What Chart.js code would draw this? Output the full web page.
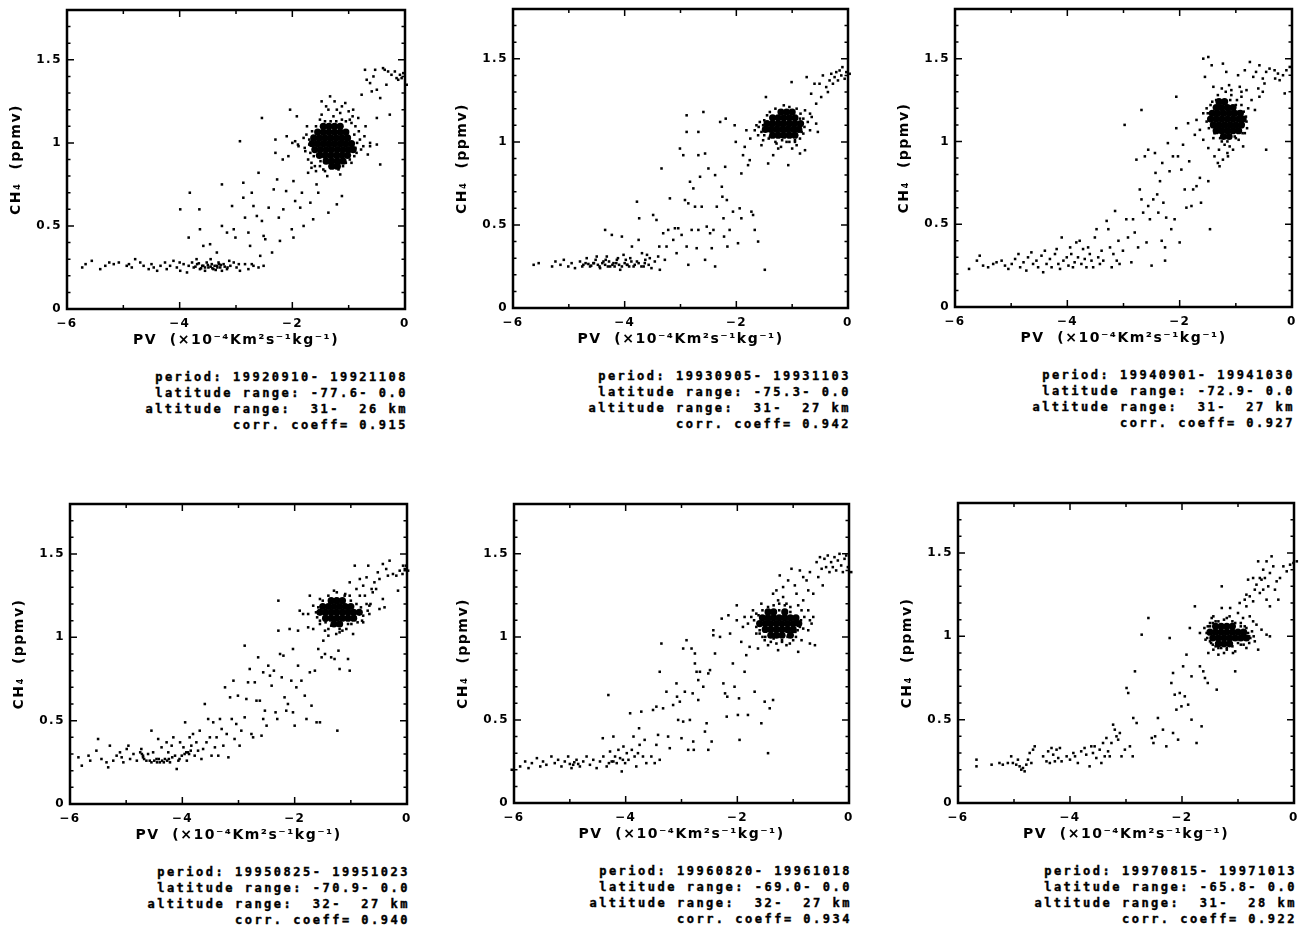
<!DOCTYPE html>
<html>
<head>
<meta charset="utf-8">
<script src="https://cdn.jsdelivr.net/npm/chart.js@4.4.0/dist/chart.umd.min.js"></script>
<style>
  html, body { margin: 0; padding: 0; background: #fff; width: 1302px; height: 928px; overflow: hidden; }
  .panel { position: absolute; }
  .stats {
    position: absolute; width: 320px; text-align: right; white-space: pre;
    font: bold 12px "DejaVu Sans Mono", monospace; letter-spacing: 2.5px;
    -webkit-text-stroke: 0.4px #000;
    line-height: 16px; color: #000;
  }
</style>
</head>
<body>
<script>
// Axis ticks and labels
const xMajorTicks = [-6, -4, -2, 0];
const xMinorTicks = [-5, -3, -1];
const xTickLabels = ['\u22126', '\u22124', '\u22122', '0'];
const yMajorTicks = [0, 0.5, 1, 1.5];
const yMinorTicks = [0.1, 0.2, 0.3, 0.4, 0.6, 0.7, 0.8, 0.9, 1.1, 1.2, 1.3, 1.4, 1.6, 1.7];
const yTickLabels = ['0', '0.5', '1', '1.5'];
const xTitle = 'PV  (\u00d710\u207b\u2074Km\u00b2s\u207b\u00b9kg\u207b\u00b9)';
const yTitle = 'CH\u2084  (ppmv)';

// 1992: PV vs CH4 points, [pv, ch4]
const panel1Points = [[-5.73,0.25],[-5.67,0.27],[-5.56,0.29],[-5.41,0.24],[-5.32,0.26],[-5.17,0.27],[-5.08,0.28],[-4.94,0.26],[-4.85,0.25],[-4.79,0.30],[-4.70,0.28],[-4.64,0.26],[-4.55,0.24],[-4.46,0.25],[-4.40,0.23],[-4.34,0.26],[-4.26,0.28],[-4.23,0.24],[-4.17,0.26],[-4.11,0.29],[-4.05,0.25],[-3.99,0.23],[-3.93,0.27],[-3.87,0.22],[-3.84,0.26],[-3.78,0.28],[-3.75,0.25],[-3.69,0.27],[-3.64,0.24],[-3.58,0.26],[-3.52,0.28],[-3.49,0.25],[-3.43,0.27],[-3.40,0.24],[-3.34,0.26],[-3.31,0.28],[-3.28,0.25],[-3.22,0.27],[-3.16,0.24],[-3.10,0.26],[-3.04,0.28],[-2.99,0.25],[-2.93,0.23],[-2.84,0.27],[-2.78,0.24],[-2.69,0.26],[-2.60,0.25],[-2.51,0.26],
  [-4.50,0.27],[-4.00,0.28],[-3.70,0.30],[-3.55,0.23],[-3.45,0.30],[-3.25,0.23],[-3.12,0.29],[-2.95,0.27],[-2.72,0.27],[-4.90,0.27],[-5.25,0.28],
  [-3.60,0.26],[-3.55,0.25],[-3.50,0.265],[-3.45,0.255],[-3.38,0.26],[-3.33,0.25],[-3.27,0.265],[-3.20,0.255],[-3.62,0.245],[-3.42,0.245],[-3.30,0.27],[-3.15,0.25],[-3.72,0.255],[-3.66,0.275],[-3.36,0.235],
  [-3.99,0.60],[-3.82,0.70],[-3.65,0.60],[-3.84,0.43],[-3.64,0.48],[-3.58,0.38],[-3.46,0.39],[-3.34,0.34],[-3.25,0.75],[-3.25,0.50],[-3.16,0.46],[-3.07,0.62],[-3.04,0.48],[-3.01,0.43],[-2.93,1.01],[-2.87,0.76],[-2.87,0.67],[-2.84,0.55],[-2.78,0.46],[-2.75,0.38],[-2.72,0.70],[-2.69,0.62],[-2.63,0.56],[-2.54,1.15],[-2.60,0.82],[-2.54,0.53],[-2.51,0.44],[-2.48,0.42],[-2.57,0.32],[-2.42,0.61],[-2.36,0.34],[-2.33,0.72],[-2.30,1.02],[-2.30,0.94],[-2.27,0.78],[-2.24,0.55],[-2.22,0.41],[-2.17,0.90],[-2.16,0.60],[-2.11,0.71],[-2.10,1.04],[-2.07,0.92],[-2.04,1.20],[-2.01,0.48],[-1.98,0.43],[-1.98,0.77],[-1.95,0.65],[-1.92,1.16],[-1.89,0.98],[-1.86,0.61],[-1.83,0.70],[-1.80,0.50],[-1.77,0.95],[-1.72,0.82],[-1.68,0.64],[-1.66,0.88],[-1.63,0.54],[-1.57,0.75],[-1.54,0.70],[-1.48,1.25],[-1.36,0.58],[-1.33,1.28],[-1.15,0.81],[-1.12,0.68],[-1.21,0.63],[-1.06,1.24],[-0.92,1.20],[-0.77,1.29],[-0.71,1.44],[-0.68,1.38],[-0.62,1.36],[-0.59,1.31],[-0.56,1.40],[-0.53,1.44],[-0.50,1.32],[-0.44,1.27],[-0.39,1.45],[-0.36,1.44],[-0.33,1.35],[-0.30,1.43],[-0.24,1.41],[-0.18,1.43],[-0.15,1.39],[-0.12,1.38],[-0.09,1.41],[-0.06,1.39],[-0.03,1.42],[0.03,1.35],[0.19,1.42],[-0.27,1.17],[-0.50,1.15],[-0.44,0.87],[-0.50,0.99],[-0.62,0.98],
  [-2.00,1.00],[-1.90,0.99],[-1.95,1.01],[-1.74,1.10],[-1.68,0.94],[-1.60,0.86],[-1.51,0.86],[-1.42,0.83],[-1.27,0.85],[-1.03,0.92],[-0.86,0.94],[-0.74,0.98],[-0.62,1.00],[-0.80,1.02],[-1.27,1.16],[-1.15,1.18],[-0.98,1.14],[-0.83,1.15],[-1.03,1.06],[-1.51,1.14],[-1.36,1.20],[-1.21,1.20],[-0.90,1.05],[-0.88,0.97],[-1.70,1.02],[-1.78,0.97],[-0.70,1.10],[-0.95,0.88],[-1.10,0.86],
  [-1.75,1.05],[-1.72,0.90],[-1.66,0.85],[-1.58,0.83],[-1.50,0.89],[-1.45,0.84],[-1.38,0.80],[-1.33,0.86],[-1.18,0.84],[-1.05,0.88],[-0.98,0.90],[-0.90,0.92],[-0.85,1.00],[-0.82,1.07],[-0.88,1.10],[-0.95,1.12],[-1.05,1.13],[-1.12,1.14],[-1.22,1.13],[-1.32,1.13],[-1.42,1.13],[-1.58,1.10],[-1.65,1.07],[-1.70,0.99],[-1.80,1.03],[-1.62,0.92],[-0.78,0.96],[-0.72,1.04],[-0.66,0.93],[-1.48,1.17],[-1.40,1.22],[-1.00,1.19],[-0.93,1.16],[-1.25,1.25],[-1.12,1.22]];
// dense, overplotted part of the 1992 cloud
const panel1Core = [[-1.45,1.10],[-1.35,1.10],[-1.25,1.10],[-1.15,1.10],
  [-1.55,1.065],[-1.45,1.065],[-1.35,1.065],[-1.25,1.065],[-1.15,1.065],[-1.05,1.065],
  [-1.62,1.03],[-1.52,1.03],[-1.42,1.03],[-1.32,1.03],[-1.22,1.03],[-1.12,1.03],[-1.02,1.03],
  [-1.65,0.995],[-1.55,0.995],[-1.45,0.995],[-1.35,0.995],[-1.25,0.995],[-1.15,0.995],[-1.05,0.995],[-0.95,0.995],
  [-1.60,0.96],[-1.50,0.96],[-1.40,0.96],[-1.30,0.96],[-1.20,0.96],[-1.10,0.96],[-1.00,0.96],[-0.92,0.96],
  [-1.52,0.925],[-1.42,0.925],[-1.32,0.925],[-1.22,0.925],[-1.12,0.925],[-1.02,0.925],
  [-1.40,0.89],[-1.30,0.89],[-1.20,0.89],[-1.10,0.89],[-1.30,0.86],[-1.20,0.86]];
const panel1Info = ['period: 19920910- 19921108', 'latitude range: -77.6- 0.0', 'altitude range:  31-  26 km', 'corr. coeff= 0.915'];

// 1993
const panel2Points = [[-6.20,0.32],[-5.63,0.26],[-5.54,0.27],[-5.30,0.25],[-5.24,0.28],[-5.15,0.26],[-5.09,0.29],[-5.01,0.25],[-4.95,0.27],[-4.89,0.24],[-4.80,0.28],[-4.74,0.26],[-4.68,0.30],[-4.62,0.25],[-4.56,0.27],[-4.50,0.31],[-4.44,0.24],[-4.38,0.28],[-4.35,0.47],[-4.32,0.31],[-4.26,0.25],[-4.23,0.44],[-4.20,0.27],[-4.14,0.29],[-4.08,0.23],[-4.05,0.43],[-4.02,0.32],[-3.96,0.26],[-3.90,0.30],[-3.87,0.37],[-3.84,0.25],[-3.78,0.64],[-3.78,0.28],[-3.75,0.41],[-3.74,0.54],[-3.69,0.33],[-3.66,0.25],[-3.63,0.29],[-3.60,0.32],[-3.57,0.26],[-3.55,0.30],[-3.52,0.24],[-3.49,0.56],[-3.46,0.28],[-3.43,0.53],[-3.40,0.31],[-3.38,0.37],[-3.37,0.23],[-3.34,0.84],[-3.31,0.45],[-3.28,0.29],[-3.25,0.37],[-3.22,0.47],[-3.19,0.66],[-3.13,0.41],[-3.10,0.48],[-3.07,0.33],[-3.04,0.48],[-3.01,0.96],[-2.98,0.44],[-2.95,0.92],[-2.92,0.65],[-2.89,1.16],[-2.89,1.06],[-2.89,0.37],[-2.86,0.63],[-2.86,0.26],[-2.83,0.76],[-2.80,0.47],[-2.77,0.72],[-2.74,0.61],[-2.71,0.36],[-2.68,0.92],[-2.68,1.06],[-2.68,0.47],[-2.65,0.79],[-2.62,0.61],[-2.59,1.18],[-2.56,0.93],[-2.56,0.29],[-2.53,0.49],[-2.50,0.84],[-2.47,0.45],[-2.44,0.36],[-2.41,0.47],[-2.38,0.80],[-2.38,0.25],[-2.35,0.61],[-2.29,1.12],[-2.26,0.73],[-2.25,0.67],[-2.23,0.54],[-2.22,0.43],[-2.20,0.85],[-2.19,1.14],[-2.17,0.65],[-2.16,0.37],[-2.12,0.47],[-2.06,0.58],[-2.03,1.10],[-2.01,1.00],[-1.97,0.39],[-1.94,0.60],[-1.91,0.54],[-1.91,0.81],[-1.88,0.92],[-1.85,0.97],[-1.82,1.07],[-1.79,0.86],[-1.76,0.89],[-1.73,0.58],[-1.70,0.56],[-1.67,0.47],[-1.64,1.10],[-1.61,0.40],[-1.49,0.23],[-1.47,1.27],[-1.43,0.87],[-1.34,0.92],[-1.07,0.86],[-1.01,1.36],[-0.86,0.93],[-0.77,0.95],[-0.74,1.39],[-0.66,1.29],[-0.60,1.35],[-0.57,1.23],[-0.54,1.06],[-0.51,1.35],[-0.48,1.27],[-0.45,1.40],[-0.39,1.33],[-0.36,1.30],[-0.33,1.37],[-0.30,1.41],[-0.27,1.35],[-0.24,1.39],[-0.21,1.42],[-0.18,1.37],[-0.15,1.43],[-0.12,1.40],[-0.10,1.45],[-0.06,1.38],[-0.03,1.42],[0.03,1.41],[0.09,1.32],[0.18,1.32],[0.27,1.38],
  [-4.65,0.265],[-4.60,0.255],[-4.55,0.27],[-4.48,0.26],[-4.45,0.25],[-4.40,0.27],[-4.35,0.26],[-4.30,0.25],[-4.28,0.28],[-4.22,0.26],[-4.18,0.25],[-4.15,0.27],[-4.10,0.26],[-4.05,0.25],[-4.00,0.27],[-3.95,0.26],[-3.92,0.25],[-3.88,0.28],[-3.82,0.26],[-3.75,0.27],[-3.70,0.25],[-4.52,0.29],[-4.34,0.29],[-4.12,0.30],[-3.98,0.29],[-4.70,0.27],[-4.76,0.25],[-3.64,0.27],
  [-1.34,1.14],[-1.22,1.19],[-0.98,1.18],[-0.86,1.14],[-0.77,1.19],[-0.68,1.17],[-0.57,1.11],[-1.67,1.07],[-1.61,1.04],[-1.52,1.01],[-1.40,1.03],[-1.28,0.99],[-1.10,1.00],[-0.95,1.01],[-0.83,1.06],[-0.68,1.07],[-1.58,1.12],[-1.55,0.98],[-1.20,0.97],[-0.92,0.98],[-1.75,1.02],
  [-1.55,1.06],[-1.52,1.10],[-1.50,1.13],[-1.45,1.16],[-1.40,1.18],[-1.30,1.20],[-1.15,1.22],[-1.05,1.21],[-0.92,1.20],[-0.85,1.17],[-0.80,1.14],[-0.78,1.09],[-0.80,1.05],[-0.86,1.02],[-0.95,1.00],[-1.05,1.00],[-1.18,1.01],[-1.30,1.00],[-1.42,1.02],[-1.50,1.04],[-0.72,1.12],[-0.65,1.15],[-1.60,1.09],[-1.25,0.96],[-1.00,0.96]];
const panel2Core = [[-1.20,1.18],[-1.10,1.18],[-1.00,1.18],
  [-1.35,1.145],[-1.25,1.145],[-1.15,1.145],[-1.05,1.145],[-0.95,1.145],
  [-1.45,1.11],[-1.35,1.11],[-1.25,1.11],[-1.15,1.11],[-1.05,1.11],[-0.95,1.11],[-0.85,1.11],
  [-1.48,1.075],[-1.38,1.075],[-1.28,1.075],[-1.18,1.075],[-1.08,1.075],[-0.98,1.075],[-0.88,1.075],
  [-1.35,1.04],[-1.25,1.04],[-1.15,1.04],[-1.05,1.04],[-0.95,1.04]];
const panel2Info = ['period: 19930905- 19931103', 'latitude range: -75.3- 0.0', 'altitude range:  31-  27 km', 'corr. coeff= 0.942'];

// 1994
const panel3Points = [[-6.12,0.25],[-5.75,0.23],[-5.61,0.28],[-5.56,0.31],[-5.50,0.25],[-5.41,0.24],[-5.32,0.26],[-5.26,0.27],[-5.17,0.28],[-5.11,0.25],[-5.05,0.23],[-4.99,0.26],[-4.93,0.29],[-4.87,0.32],[-4.84,0.24],[-4.78,0.27],[-4.73,0.22],[-4.70,0.30],[-4.64,0.33],[-4.61,0.26],[-4.55,0.28],[-4.52,0.24],[-4.46,0.31],[-4.43,0.21],[-4.40,0.34],[-4.37,0.26],[-4.31,0.29],[-4.28,0.24],[-4.22,0.32],[-4.19,0.35],[-4.16,0.26],[-4.13,0.23],[-4.10,0.42],[-4.07,0.28],[-4.01,0.30],[-3.98,0.25],[-3.95,0.36],[-3.93,0.32],[-3.90,0.24],[-3.87,0.27],[-3.84,0.39],[-3.81,0.30],[-3.78,0.40],[-3.75,0.26],[-3.72,0.35],[-3.69,0.29],[-3.66,0.24],[-3.63,0.36],[-3.60,0.32],[-3.57,0.28],[-3.54,0.24],[-3.51,0.42],[-3.48,0.47],[-3.45,0.30],[-3.42,0.26],[-3.39,0.34],[-3.36,0.28],[-3.30,0.52],[-3.27,0.47],[-3.24,0.36],[-3.21,0.24],[-3.18,0.32],[-3.15,0.58],[-3.12,0.28],[-3.09,0.40],[-3.07,0.26],[-3.01,0.34],[-2.98,1.10],[-2.95,0.53],[-2.92,0.42],[-2.86,0.27],[-2.83,0.53],[-2.80,0.45],[-2.77,0.89],[-2.74,0.36],[-2.71,0.71],[-2.68,1.19],[-2.68,0.65],[-2.65,0.57],[-2.62,0.91],[-2.59,0.39],[-2.56,0.95],[-2.56,0.61],[-2.53,0.53],[-2.50,0.25],[-2.47,0.65],[-2.44,0.93],[-2.43,0.81],[-2.40,0.68],[-2.38,0.57],[-2.35,0.76],[-2.32,0.40],[-2.31,0.87],[-2.29,0.63],[-2.26,0.36],[-2.26,0.28],[-2.24,0.54],[-2.21,0.99],[-2.18,0.82],[-2.15,0.47],[-2.12,0.91],[-2.09,0.53],[-2.06,1.27],[-2.06,1.08],[-2.03,0.91],[-2.00,0.39],[-1.97,0.83],[-1.94,0.98],[-1.91,0.71],[-1.88,0.60],[-1.85,1.11],[-1.83,0.88],[-1.79,0.61],[-1.76,0.71],[-1.73,1.04],[-1.70,0.73],[-1.64,0.78],[-1.62,0.63],[-1.58,1.17],[-1.58,1.50],[-1.49,1.51],[-1.55,1.39],[-1.49,0.76],[-1.46,0.47],[-1.43,1.46],[-1.23,1.47],[-1.17,1.42],[-0.46,0.95],[-0.66,1.19],[-0.58,1.27],[-0.52,1.30],[-0.49,1.35],[-0.84,1.43],[-0.75,1.48],[-0.69,1.39],[-0.64,1.42],[-0.58,1.46],[-0.52,1.38],[-0.46,1.42],[-0.40,1.44],[-0.31,1.43],[-0.25,1.41],[-0.22,1.37],[-0.16,1.40],[-0.13,1.29],[-0.10,1.43],[-0.04,1.45],[-0.96,1.40],[-0.93,1.33],[-0.90,1.27],[-0.81,1.31],[-1.08,1.31],[-1.40,1.33],[-1.35,1.25],[-1.38,0.91],[-1.32,0.87],[-1.29,0.85],[-1.23,0.89],[-1.14,0.91],[-1.11,0.97],[-0.87,0.97],[-0.84,1.05],[-0.81,1.12],[-1.64,1.07],[-1.70,1.13],[-1.58,1.01],[-1.49,0.96],
  [-1.52,1.20],[-1.45,1.22],[-1.10,1.25],[-1.00,1.22],[-0.95,1.18],[-0.78,1.20],[-1.00,1.02],[-1.25,1.00],[-1.40,1.02],[-0.72,1.25],[-0.60,1.32],[-0.30,1.38],
  [-1.52,1.12],[-1.50,1.17],[-1.48,1.08],[-1.42,1.24],[-1.38,1.05],[-1.32,1.28],[-1.28,1.02],[-1.18,1.30],[-1.15,1.00],[-1.08,1.28],[-1.02,1.03],[-0.98,1.25],[-0.90,1.22],[-0.86,1.18],[-0.82,1.15],[-0.80,1.08],[-0.88,1.05],[-0.95,1.01],[-1.20,0.98],[-1.30,0.95],[-1.25,1.32],[-1.12,1.34],[-0.90,1.30],[-1.05,0.95],[-1.15,0.93]];
const panel3Core = [[-1.30,1.24],[-1.20,1.24],
  [-1.35,1.205],[-1.25,1.205],[-1.15,1.205],[-1.05,1.205],
  [-1.42,1.17],[-1.32,1.17],[-1.22,1.17],[-1.12,1.17],[-1.02,1.17],[-0.92,1.17],
  [-1.45,1.135],[-1.35,1.135],[-1.25,1.135],[-1.15,1.135],[-1.05,1.135],[-0.95,1.135],[-0.87,1.135],
  [-1.40,1.10],[-1.30,1.10],[-1.20,1.10],[-1.10,1.10],[-1.00,1.10],[-0.90,1.10],
  [-1.35,1.065],[-1.25,1.065],[-1.15,1.065],[-1.05,1.065],[-0.95,1.065],
  [-1.22,1.03],[-1.12,1.03]];
const panel3Info = ['period: 19940901- 19941030', 'latitude range: -72.9- 0.0', 'altitude range:  31-  27 km', 'corr. coeff= 0.927'];

// 1995
const panel4Points = [[-6.86,0.29],[-6.09,0.28],[-5.85,0.28],[-5.79,0.23],[-5.67,0.29],[-5.64,0.26],[-5.53,0.32],[-5.50,0.39],[-5.44,0.27],[-5.35,0.25],[-5.32,0.22],[-5.29,0.35],[-5.23,0.26],[-5.17,0.29],[-5.11,0.31],[-5.08,0.28],[-5.05,0.25],[-4.99,0.33],[-4.96,0.35],[-4.93,0.27],[-4.87,0.30],[-4.81,0.26],[-4.75,0.31],[-4.73,0.33],[-4.70,0.28],[-4.64,0.26],[-4.61,0.30],[-4.55,0.44],[-4.52,0.31],[-4.46,0.27],[-4.43,0.39],[-4.40,0.25],[-4.37,0.34],[-4.31,0.27],[-4.28,0.37],[-4.25,0.31],[-4.22,0.25],[-4.19,0.35],[-4.16,0.40],[-4.13,0.29],[-4.10,0.21],[-4.07,0.26],[-4.04,0.37],[-4.01,0.29],[-3.98,0.34],[-3.95,0.49],[-3.92,0.26],[-3.90,0.31],[-3.87,0.40],[-3.84,0.35],[-3.81,0.42],[-3.78,0.29],[-3.75,0.37],[-3.72,0.32],[-3.69,0.44],[-3.66,0.27],[-3.63,0.33],[-3.60,0.60],[-3.57,0.37],[-3.54,0.51],[-3.51,0.40],[-3.48,0.29],[-3.45,0.49],[-3.42,0.34],[-3.39,0.40],[-3.36,0.29],[-3.33,0.51],[-3.30,0.45],[-3.27,0.35],[-3.24,0.70],[-3.21,0.42],[-3.18,0.28],[-3.15,0.64],[-3.12,0.51],[-3.09,0.74],[-3.07,0.39],[-3.04,0.48],[-3.01,0.65],[-2.98,0.35],[-2.95,0.44],[-2.89,0.52],[-2.89,0.95],[-2.86,0.63],[-2.83,0.73],[-2.80,0.81],[-2.77,0.42],[-2.74,0.40],[-2.71,0.73],[-2.68,0.62],[-2.65,0.88],[-2.62,0.62],[-2.59,0.41],[-2.56,0.79],[-2.56,0.51],[-2.53,0.56],[-2.50,0.47],[-2.47,0.83],[-2.44,0.77],[-2.41,0.71],[-2.37,0.80],[-2.34,0.55],[-2.31,0.51],[-2.29,1.22],[-2.29,1.04],[-2.26,0.90],[-2.23,0.76],[-2.20,0.89],[-2.18,0.64],[-2.15,0.56],[-2.12,0.60],[-2.09,1.05],[-2.06,0.74],[-2.03,0.93],[-2.03,0.55],[-2.00,0.47],[-1.97,0.70],[-1.94,1.04],[-1.94,0.83],[-1.91,1.16],[-1.88,0.74],[-1.85,1.14],[-1.82,0.65],[-1.79,0.51],[-1.76,1.06],[-1.73,0.79],[-1.70,0.59],[-1.67,1.05],[-1.64,0.80],[-1.61,0.49],[-1.58,0.93],[-1.55,0.49],[-1.52,0.88],[-1.49,0.98],[-1.46,0.90],[-1.40,1.01],[-1.35,0.88],[-1.29,0.87],[-1.24,0.44],[-1.22,0.92],[-1.20,0.81],[-1.05,0.87],[-1.02,0.80],[-0.96,1.02],[-1.08,1.05],[-1.20,1.03],
  [-4.70,0.29],[-4.72,0.30],[-4.68,0.27],[-4.58,0.26],[-4.55,0.25],[-4.50,0.26],[-4.45,0.25],[-4.42,0.27],[-4.36,0.26],[-4.33,0.25],[-4.27,0.26],[-4.24,0.27],[-3.96,0.30],[-3.93,0.31],[-3.88,0.30],[-3.85,0.32],[-4.18,0.28],[-4.05,0.27],
  [-1.11,1.25],[-1.02,1.33],[-0.93,1.43],[-0.90,1.29],[-0.84,1.35],[-0.78,1.31],[-0.72,1.36],[-0.69,1.43],[-0.63,1.29],[-0.58,1.33],[-0.52,1.39],[-0.49,1.35],[-0.43,1.44],[-0.37,1.41],[-0.34,1.37],[-0.31,1.46],[-0.25,1.38],[-0.19,1.37],[-0.16,1.28],[-0.13,1.40],[-0.07,1.43],[-0.04,1.41],[0.02,1.40],[0.11,1.39],[0.14,1.35],[0.26,1.42],[-0.43,1.23],[-0.55,1.29],[-0.67,1.19],[-0.61,1.27],[-0.75,1.25],[-0.49,1.17],[-0.40,1.18],
  [-1.73,1.25],[-1.67,1.19],[-1.76,1.14],[-1.55,1.23],[-1.26,1.23],[-1.02,1.25],[-0.84,1.25],[-0.72,1.20],[-0.67,1.14],[-0.78,1.09],[-0.99,1.08],[-1.32,1.07],[-1.55,1.10],[-1.46,1.04],[-1.26,1.02],[-0.02,1.43],[-0.08,1.38],
  [-1.62,1.15],[-1.60,1.12],[-1.58,1.18],[-1.50,1.22],[-1.45,1.09],[-1.40,1.25],[-1.35,1.07],[-1.25,1.27],[-1.20,1.05],[-1.10,1.26],[-1.05,1.08],[-1.00,1.22],[-0.90,1.20],[-0.82,1.18],[-0.78,1.13],[-0.80,1.10],[-0.88,1.09],[-1.15,1.04],[-1.40,1.05],[-0.70,1.16],[-0.65,1.20],[-1.30,1.28],[-1.55,1.08]];
const panel4Core = [[-1.35,1.22],[-1.25,1.22],[-1.15,1.22],
  [-1.50,1.185],[-1.40,1.185],[-1.30,1.185],[-1.20,1.185],[-1.10,1.185],[-1.00,1.185],
  [-1.55,1.15],[-1.45,1.15],[-1.35,1.15],[-1.25,1.15],[-1.15,1.15],[-1.05,1.15],[-0.95,1.15],[-0.85,1.15],
  [-1.45,1.115],[-1.35,1.115],[-1.25,1.115],[-1.15,1.115],[-1.05,1.115],[-0.95,1.115],
  [-1.30,1.08],[-1.20,1.08]];
const panel4Info = ['period: 19950825- 19951023', 'latitude range: -70.9- 0.0', 'altitude range:  32-  27 km', 'corr. coeff= 0.940'];

// 1996
const panel5Points = [[-6.43,0.27],[-6.34,0.23],[-6.25,0.21],[-6.13,0.24],[-6.04,0.20],[-5.89,0.22],[-5.80,0.25],[-5.74,0.21],[-5.68,0.24],[-5.59,0.27],[-5.53,0.22],[-5.48,0.25],[-5.42,0.23],[-5.33,0.28],[-5.27,0.24],[-5.21,0.26],[-5.15,0.22],[-5.09,0.25],[-5.03,0.28],[-4.97,0.21],[-4.94,0.23],[-4.88,0.26],[-4.82,0.22],[-4.76,0.25],[-4.70,0.28],[-4.64,0.23],[-4.58,0.26],[-4.52,0.21],[-4.46,0.25],[-4.41,0.39],[-4.40,0.28],[-4.34,0.22],[-4.31,0.65],[-4.28,0.31],[-4.25,0.25],[-4.22,0.40],[-4.19,0.28],[-4.16,0.24],[-4.13,0.32],[-4.10,0.27],[-4.07,0.19],[-4.04,0.34],[-4.01,0.24],[-3.98,0.30],[-3.95,0.26],[-3.92,0.54],[-3.89,0.32],[-3.86,0.40],[-3.84,0.28],[-3.81,0.22],[-3.78,0.30],[-3.76,0.45],[-3.75,0.35],[-3.72,0.55],[-3.69,0.28],[-3.66,0.38],[-3.63,0.24],[-3.54,0.28],[-3.51,0.56],[-3.48,0.24],[-3.45,0.58],[-3.45,0.35],[-3.42,0.41],[-3.39,0.26],[-3.39,0.79],[-3.36,0.96],[-3.33,0.57],[-3.27,0.67],[-3.24,0.40],[-3.21,0.33],[-3.15,0.59],[-3.09,0.72],[-3.08,0.64],[-3.06,0.50],[-3.03,0.61],[-3.00,0.39],[-2.97,0.49],[-2.97,0.93],[-2.94,0.67],[-2.91,0.98],[-2.88,0.32],[-2.85,0.50],[-2.82,0.93],[-2.80,0.66],[-2.79,0.37],[-2.78,0.32],[-2.76,0.84],[-2.76,0.90],[-2.73,0.79],[-2.70,0.74],[-2.70,0.62],[-2.67,0.79],[-2.61,0.70],[-2.58,0.43],[-2.55,0.48],[-2.52,0.78],[-2.52,0.32],[-2.49,0.80],[-2.46,0.37],[-2.43,1.04],[-2.40,0.90],[-2.43,1.01],[-2.31,1.00],[-2.28,1.11],[-2.25,0.72],[-2.22,0.66],[-2.19,0.52],[-2.18,0.64],[-2.16,1.13],[-2.13,1.02],[-2.08,0.84],[-2.05,0.70],[-2.01,1.10],[-2.01,1.19],[-1.99,0.53],[-1.97,0.63],[-1.96,0.38],[-1.93,0.97],[-1.90,1.06],[-1.87,0.79],[-1.84,0.89],[-1.81,0.53],[-1.78,0.94],[-1.75,1.12],[-1.69,0.67],[-1.66,1.02],[-1.63,0.93],[-1.57,0.48],[-1.51,0.61],[-1.45,0.30],[-1.42,0.57],[-1.36,0.62],[-1.27,0.92],[-0.91,0.91],[-0.70,0.96],[-0.61,0.95],[-0.73,1.04],[-0.70,1.10],[-0.73,1.16],[-0.82,1.22],[-0.91,1.19],[-0.94,1.26],
  [-5.00,0.235],[-4.92,0.245],[-4.85,0.235],[-4.30,0.24],[-4.22,0.25],[-4.05,0.26],
  [-1.24,1.37],[-1.18,1.30],[-1.09,1.34],[-1.03,1.41],[-0.97,1.31],[-0.88,1.40],[-0.82,1.36],[-0.76,1.34],[-0.73,1.28],[-0.70,1.39],[-0.64,1.26],[-0.58,1.45],[-0.55,1.36],[-0.52,1.48],[-0.49,1.41],[-0.47,1.31],[-0.44,1.47],[-0.41,1.42],[-0.38,1.49],[-0.35,1.39],[-0.32,1.45],[-0.29,1.42],[-0.26,1.48],[-0.23,1.40],[-0.20,1.46],[-0.17,1.50],[-0.14,1.43],[-0.11,1.39],[-0.08,1.47],[-0.05,1.49],[-0.02,1.42],[0.04,1.39],[0.10,1.43],[0.13,1.50],[0.18,1.41],[0.20,1.48],
  [-1.87,1.12],[-1.81,1.08],[-1.72,1.16],[-1.66,1.14],[-1.60,1.04],[-1.57,1.20],[-1.51,0.98],[-1.45,0.95],[-1.36,1.26],[-1.30,1.28],[-1.27,1.22],[-1.18,1.24],[-1.12,1.20],[-1.06,0.96],[-1.00,0.98],[-0.88,1.06],[-0.67,1.08],[-0.64,1.12],[-1.20,0.98],[-0.95,1.00],[-1.55,1.00],[-1.35,0.99],[-0.85,1.16],[-1.05,1.18],
  [-1.70,1.10],[-1.66,1.06],[-1.62,1.13],[-1.55,1.16],[-1.50,1.00],[-1.45,1.18],[-1.40,0.97],[-1.30,0.96],[-1.25,1.16],[-1.20,0.97],[-1.10,1.00],[-1.05,1.15],[-0.98,1.12],[-0.92,1.04],[-0.86,1.10],[-0.82,1.05],[-0.80,1.12],[-0.96,1.03],[-1.35,1.19],[-1.25,1.20],[-1.15,1.19],[-1.60,1.02],[-1.12,0.95],[-0.85,0.98]];
const panel5Core = [[-1.45,1.15],[-1.35,1.15],[-1.15,1.15],
  [-1.55,1.115],[-1.45,1.115],[-1.35,1.115],[-1.25,1.115],[-1.15,1.115],[-1.05,1.115],[-0.95,1.115],
  [-1.60,1.08],[-1.50,1.08],[-1.40,1.08],[-1.30,1.08],[-1.20,1.08],[-1.10,1.08],[-1.00,1.08],[-0.90,1.08],
  [-1.50,1.045],[-1.40,1.045],[-1.30,1.045],[-1.20,1.045],[-1.10,1.045],[-1.00,1.045],
  [-1.40,1.01],[-1.30,1.01],[-1.20,1.01],[-1.05,1.01]];
const panel5Info = ['period: 19960820- 19961018', 'latitude range: -69.0- 0.0', 'altitude range:  32-  27 km', 'corr. coeff= 0.934'];

// 1997
const panel6Points = [[-5.67,0.26],[-5.67,0.22],[-5.40,0.23],[-5.26,0.24],[-5.20,0.23],[-5.11,0.24],[-5.05,0.28],[-5.02,0.24],[-4.96,0.23],[-4.93,0.26],[-4.90,0.22],[-4.87,0.20],[-4.84,0.21],[-4.81,0.19],[-4.78,0.23],[-4.75,0.26],[-4.72,0.30],[-4.69,0.24],[-4.66,0.32],[-4.63,0.34],[-4.48,0.28],[-4.42,0.25],[-4.39,0.31],[-4.36,0.24],[-4.33,0.33],[-4.30,0.29],[-4.27,0.25],[-4.24,0.32],[-4.21,0.27],[-4.18,0.33],[-4.15,0.25],[-4.06,0.28],[-4.00,0.26],[-3.94,0.30],[-3.91,0.28],[-3.86,0.24],[-3.80,0.31],[-3.74,0.33],[-3.71,0.29],[-3.65,0.22],[-3.62,0.34],[-3.59,0.30],[-3.56,0.34],[-3.53,0.27],[-3.47,0.32],[-3.44,0.24],[-3.41,0.36],[-3.38,0.28],[-3.35,0.39],[-3.32,0.31],[-3.29,0.28],[-3.26,0.36],[-3.23,0.47],[-3.20,0.44],[-3.17,0.40],[-3.14,0.38],[-3.11,0.42],[-3.08,0.28],[-3.02,0.32],[-2.99,0.69],[-2.96,0.66],[-2.93,0.34],[-2.88,0.28],[-2.87,0.51],[-2.84,0.79],[-2.81,0.48],[-2.72,1.01],[-2.60,1.11],[-2.54,0.39],[-2.51,0.36],[-2.48,0.40],[-2.43,0.51],[-2.34,0.44],[-2.28,0.34],[-2.22,0.99],[-2.19,0.72],[-2.16,0.78],[-2.16,0.42],[-2.13,0.65],[-2.10,0.56],[-2.07,0.38],[-2.04,0.66],[-2.01,0.58],[-1.98,0.82],[-1.95,0.64],[-1.92,0.89],[-1.89,0.59],[-1.86,1.05],[-1.83,0.76],[-1.83,0.50],[-1.77,1.18],[-1.74,0.36],[-1.68,0.82],[-1.65,0.46],[-1.62,0.79],[-1.59,0.75],[-1.54,0.72],[-1.50,0.97],[-1.47,1.11],[-1.38,0.68],[-1.29,1.30],[-1.14,1.17],[-1.05,0.79],
  [-1.68,1.02],[-1.54,1.06],[-1.44,1.12],[-1.29,1.17],[-1.20,1.11],[-1.00,1.14],[-0.91,1.11],[-0.85,1.18],[-0.79,1.12],[-0.73,1.09],[-0.67,1.07],[-0.58,1.04],[-0.49,1.01],[-0.43,1.00],[-0.64,0.92],[-0.85,0.93],[-1.09,0.90],[-1.44,0.92],[-1.53,0.90],
  [-0.88,1.22],[-0.85,1.25],[-0.79,1.24],[-0.73,1.21],[-0.70,1.28],[-0.67,1.31],[-0.64,1.45],[-0.61,1.26],[-0.58,1.34],[-0.55,1.40],[-0.52,1.35],[-0.49,1.45],[-0.46,1.30],[-0.43,1.38],[-0.40,1.48],[-0.37,1.42],[-0.34,1.28],[-0.31,1.33],[-0.28,1.22],[-0.25,1.35],[-0.19,1.42],[-0.13,1.39],[-0.07,1.43],[-0.01,1.44],[0.05,1.45],[0.11,1.43],[-0.73,1.35],[-0.61,1.35],[-0.55,1.28],[-0.49,1.22],[-0.43,1.18],[-0.82,1.34],[-0.97,1.20],
  [-1.58,0.98],[-1.60,1.05],[-1.50,1.08],[-1.45,0.95],[-0.85,1.05],[-0.80,1.00],[-0.75,1.03],[-0.95,0.95],[-1.20,0.93],[-1.35,0.93],[-1.10,1.09],[-0.95,1.08],[-1.40,1.09],[-0.90,1.01],
  [-1.56,1.02],[-1.55,0.99],[-1.50,1.06],[-1.48,0.96],[-1.45,1.08],[-1.40,0.94],[-1.35,1.09],[-1.30,0.93],[-1.25,1.10],[-1.20,0.92],[-1.10,0.94],[-1.05,1.08],[-1.00,0.96],[-0.95,1.06],[-0.88,1.06],[-0.82,1.02],[-0.78,0.99],[-0.80,0.96],[-0.90,0.95],[-1.15,1.12],[-1.25,0.90],[-1.35,0.89],[-0.72,1.00],[-0.70,0.97],[-1.05,0.91]];
const panel6Core = [[-1.40,1.06],[-1.30,1.06],[-1.20,1.06],[-1.10,1.06],
  [-1.50,1.025],[-1.40,1.025],[-1.30,1.025],[-1.20,1.025],[-1.10,1.025],[-1.00,1.025],[-0.90,1.025],
  [-1.45,0.99],[-1.35,0.99],[-1.25,0.99],[-1.15,0.99],[-1.05,0.99],[-0.95,0.99],[-0.85,0.99],
  [-1.35,0.955],[-1.25,0.955],[-1.15,0.955]];
const panel6Info = ['period: 19970815- 19971013', 'latitude range: -65.8- 0.0', 'altitude range:  31-  28 km', 'corr. coeff= 0.922'];

// Page layout: plot-area boxes in page pixels
const panels = [
  { box: { L: 67,  T: 10,  R: 405,  B: 309 }, points: panel1Points, core: panel1Core, info: panel1Info },
  { box: { L: 513, T: 9,   R: 848,  B: 308 }, points: panel2Points, core: panel2Core, info: panel2Info },
  { box: { L: 955, T: 9,   R: 1292, B: 307 }, points: panel3Points, core: panel3Core, info: panel3Info },
  { box: { L: 70,  T: 504, R: 407,  B: 804 }, points: panel4Points, core: panel4Core, info: panel4Info },
  { box: { L: 514, T: 504, R: 849,  B: 803 }, points: panel5Points, core: panel5Core, info: panel5Info },
  { box: { L: 958, T: 503, R: 1294, B: 803 }, points: panel6Points, core: panel6Core, info: panel6Info }
];

const AXIS_W = 70, AXIS_H = 45, PAD_TOP = 5, PAD_RIGHT = 22;
const labelFont = { family: 'DejaVu Sans', weight: 'bold', size: 12 };
const titleFont = { family: 'DejaVu Sans', weight: 'bold', size: 14 };

// frame and inward ticks, drawn through the chart's own scales
const framePlugin = {
  id: 'frame',
  beforeDraw(chart) {
    chart.ctx.letterSpacing = '1.5px';
  },
  afterDraw(chart) {
    const { ctx, chartArea: a, scales: { x, y } } = chart;
    ctx.save();
    ctx.strokeStyle = '#000';
    ctx.lineWidth = 2.5;
    ctx.strokeRect(a.left, a.top, a.right - a.left, a.bottom - a.top);
    ctx.lineWidth = 1.5;
    ctx.beginPath();
    const yTick = (v, len) => {
      const py = y.getPixelForValue(v);
      ctx.moveTo(a.left, py); ctx.lineTo(a.left + len, py);
      ctx.moveTo(a.right, py); ctx.lineTo(a.right - len, py);
    };
    const xTick = (v, len) => {
      const px = x.getPixelForValue(v);
      ctx.moveTo(px, a.bottom); ctx.lineTo(px, a.bottom - len);
      ctx.moveTo(px, a.top); ctx.lineTo(px, a.top + len);
    };
    yMinorTicks.forEach(v => yTick(v, 3.5));
    yMajorTicks.forEach(v => yTick(v, 7));
    xMinorTicks.forEach(v => xTick(v, 4));
    xMajorTicks.forEach(v => xTick(v, 7));
    ctx.stroke();
    ctx.restore();
  }
};

function buildPanel(p) {
  const b = p.box;
  const w = (b.R - b.L) + AXIS_W + PAD_RIGHT;
  const h = (b.B - b.T) + PAD_TOP + AXIS_H;

  const div = document.createElement('div');
  div.className = 'panel';
  div.style.left = (b.L - AXIS_W) + 'px';
  div.style.top = (b.T - PAD_TOP) + 'px';
  const canvas = document.createElement('canvas');
  canvas.width = w;
  canvas.height = h;
  div.appendChild(canvas);
  document.body.appendChild(div);

  new Chart(canvas, {
    type: 'scatter',
    data: {
      datasets: [
        {
          data: p.points.map(d => ({ x: d[0], y: d[1] })),
          pointStyle: 'rect',
          pointRadius: 1.8,
          borderWidth: 0,
          backgroundColor: '#000',
          clip: false
        },
        {
          data: p.core.map(d => ({ x: d[0], y: d[1] })),
          pointStyle: 'circle',
          pointRadius: 3.6,
          borderWidth: 0,
          backgroundColor: '#000',
          clip: false
        }
      ]
    },
    options: {
      responsive: false,
      animation: false,
      events: [],
      layout: { padding: { top: PAD_TOP, right: PAD_RIGHT, left: 0, bottom: 0 } },
      plugins: { legend: { display: false }, tooltip: { enabled: false } },
      scales: {
        x: {
          type: 'linear',
          min: -6,
          max: 0,
          afterBuildTicks: s => { s.ticks = xMajorTicks.map(v => ({ value: v })); },
          afterFit: s => { s.height = AXIS_H; s.paddingLeft = 0; s.paddingRight = 0; },
          grid: { display: false, drawTicks: false },
          border: { display: false },
          ticks: {
            padding: 8,
            autoSkip: false,
            maxRotation: 0,
            color: '#000',
            font: labelFont,
            callback: v => xTickLabels[xMajorTicks.indexOf(v)]
          },
          title: { display: true, text: xTitle, color: '#000', font: titleFont, padding: { top: 0, bottom: 5 } }
        },
        y: {
          type: 'linear',
          min: 0,
          max: 1.8,
          afterBuildTicks: s => { s.ticks = yMajorTicks.map(v => ({ value: v })); },
          afterFit: s => { s.width = AXIS_W; s.paddingTop = 0; s.paddingBottom = 0; },
          grid: { display: false, drawTicks: false },
          border: { display: false },
          ticks: {
            padding: 5,
            color: '#000',
            font: labelFont,
            callback: v => yTickLabels[yMajorTicks.indexOf(v)]
          },
          title: { display: true, text: yTitle, color: '#000', font: titleFont, padding: { top: 11, bottom: 0 } }
        }
      }
    },
    plugins: [framePlugin]
  });

  const stats = document.createElement('div');
  stats.className = 'stats';
  stats.style.left = (b.R + 3 - 320) + 'px';
  stats.style.top = (b.B + 60) + 'px';
  stats.textContent = p.info.join('\n');
  document.body.appendChild(stats);
}

panels.forEach(buildPanel);
</script>
</body>
</html>
